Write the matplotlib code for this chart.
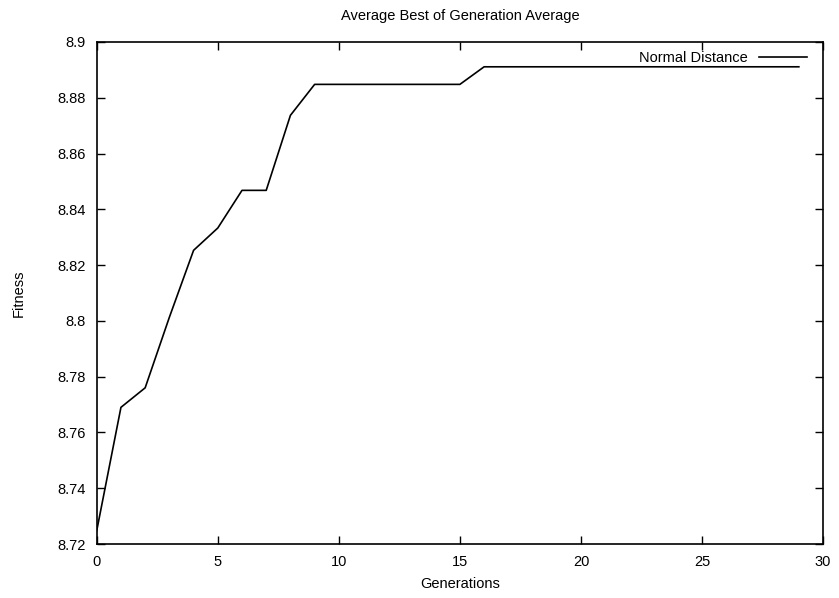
import matplotlib
matplotlib.use('Agg')
import matplotlib.pyplot as plt
from matplotlib.ticker import MultipleLocator, FormatStrFormatter

# best-of-generation fitness, averaged over runs
generations = list(range(30))
fitness = [8.7248, 8.7690, 8.7760, 8.8013, 8.8253, 8.8333, 8.8468, 8.8468,
           8.8737, 8.8848, 8.8848, 8.8848, 8.8848, 8.8848, 8.8848, 8.8848,
           8.8911, 8.8911, 8.8911, 8.8911, 8.8911, 8.8911, 8.8911, 8.8911,
           8.8911, 8.8911, 8.8911, 8.8911, 8.8911, 8.8911]

plt.rcParams['font.family'] = ['Liberation Sans', 'DejaVu Sans']
plt.rcParams['font.size'] = 10

fig = plt.figure(figsize=(8.39, 5.98), dpi=100)
ax = fig.add_axes([0.1153, 0.0903, 0.8657, 0.8395])

ax.plot(generations, fitness, color='black', linewidth=1.2, label='Normal Distance')

ax.set_xlim(0, 30)
ax.set_ylim(8.72, 8.9)
ax.xaxis.set_major_locator(MultipleLocator(5))
ax.yaxis.set_major_locator(MultipleLocator(0.02))
ax.yaxis.set_major_formatter(matplotlib.ticker.FuncFormatter(
    lambda v, p: ('%.2f' % v).rstrip('0').rstrip('.')))
ax.tick_params(direction='in', length=6, width=1, top=True, right=True,
               labelsize=10.5, pad=8, colors='black')
for sp in ax.spines.values():
    sp.set_linewidth(1.2)

ax.set_title('Average Best of Generation Average', fontsize=10.5, pad=16)
ax.set_xlabel('Generations', fontsize=10.5, labelpad=6)
ax.set_ylabel('Fitness', fontsize=10.5, labelpad=23)

leg = ax.legend(loc='upper right', bbox_to_anchor=(0.99, 1.0), frameon=False,
                markerfirst=False, fontsize=10.5, handlelength=3.3,
                borderaxespad=0.2)

plt.savefig('out.png', dpi=100)
